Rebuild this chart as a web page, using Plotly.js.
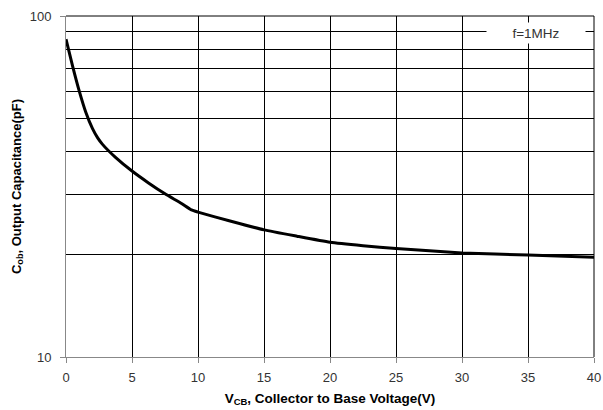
<!DOCTYPE html>
<html>
<head>
<meta charset="utf-8">
<script src="https://cdn.plot.ly/plotly-3.0.1.min.js"></script>
<style>html,body{margin:0;padding:0;background:#fff;}#chart{width:603px;height:410px;}</style>
</head>
<body>
<div id="chart"></div>
<script>
// Collector-to-base voltage (V)
const vcb = [0, 0.5, 1, 1.5, 2, 2.4, 2.75, 3.75, 5, 6.25, 7.5, 8.75, 9.5, 10, 12.5, 15, 17.5, 20, 22.5, 25, 30, 35, 40];
// Output capacitance (pF)
const cob = [85.5, 71.3, 60.3, 52.2, 46.8, 43.9, 42.1, 38.5, 35.1, 32.4, 30.1, 28.2, 27.0, 26.6, 25.0, 23.6, 22.6, 21.7, 21.2, 20.8, 20.2, 19.9, 19.6];

const xTicks = [0, 5, 10, 15, 20, 25, 30, 35, 40];
const yTicks = [10, 100];
const yMinorGrid = [20, 30, 40, 50, 60, 70, 80, 90];
const noteText = 'f=1MHz';

const fam = 'Arial, "Liberation Sans", sans-serif';
const tickFont = {family: fam, size: 13, color: '#333'};

const trace = {
  x: vcb, y: cob, type: 'scatter', mode: 'lines',
  line: {color: '#000', width: 3, shape: 'spline', smoothing: 0.5},
  hoverinfo: 'skip'
};

const layout = {
  width: 603, height: 410,
  margin: {l: 66, r: 9, t: 16, b: 53},
  paper_bgcolor: '#fff', plot_bgcolor: '#fff',
  showlegend: false,
  font: tickFont,
  xaxis: {
    range: [0, 40], tickvals: xTicks, ticktext: xTicks.map(String),
    showgrid: true, gridcolor: '#000', gridwidth: 1,
    showline: true, linecolor: '#888', linewidth: 1,
    ticks: 'outside', ticklen: 5, tickcolor: '#888',
    ticklabelstandoff: 3,
    zeroline: false, tickfont: tickFont,
    title: {text: 'V<sub>CB</sub>, Collector to Base Voltage(V)', font: {family: fam, size: 13.5, color: '#000', weight: 'bold'}, standoff: 9}
  },
  yaxis: {
    type: 'log', range: [1, 2], tickvals: yTicks, ticktext: yTicks.map(String),
    showgrid: true, gridcolor: '#000', gridwidth: 1,
    minor: {tickvals: yMinorGrid, showgrid: true, gridcolor: '#000', gridwidth: 1, ticks: ''},
    showline: true, linecolor: '#888', linewidth: 1,
    ticks: 'outside', ticklen: 5, tickcolor: '#888',
    ticklabelstandoff: 6,
    zeroline: false, tickfont: tickFont,
    title: {text: 'C<sub>ob</sub>, Output Capacitance(pF)', font: {family: fam, size: 13, color: '#000', weight: 'bold'}, standoff: 5}
  },
  shapes: [
    {type: 'line', xref: 'paper', yref: 'paper', x0: 0, x1: 1, y0: 1, y1: 1, line: {color: '#000', width: 1}},
    {type: 'line', xref: 'paper', yref: 'paper', x0: 1, x1: 1, y0: 0, y1: 1, line: {color: '#000', width: 1}}
  ],
  annotations: [{
    text: noteText, xref: 'x', yref: 'paper', x: 35.6, y: 0.95,
    xanchor: 'center', yanchor: 'middle',
    showarrow: false, bgcolor: '#fff', width: 96, height: 18,
    font: {family: fam, size: 13.5, color: '#333'}
  }]
};

Plotly.newPlot('chart', [trace], layout, {staticPlot: true, displayModeBar: false});
</script>
</body>
</html>
